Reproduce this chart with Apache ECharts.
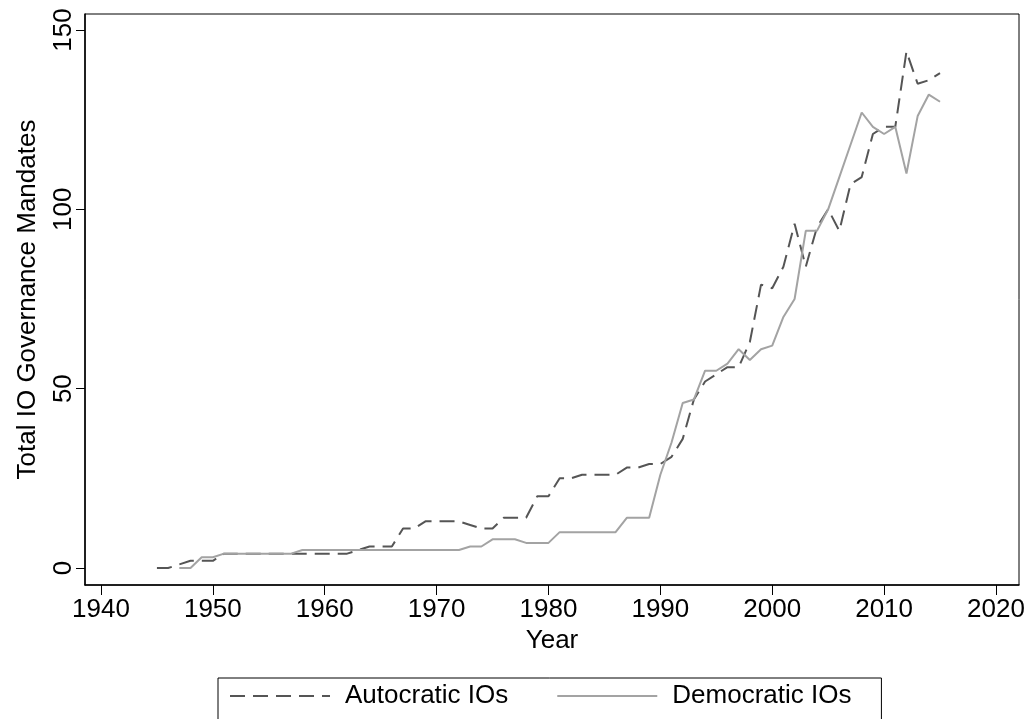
<!DOCTYPE html>
<html><head><meta charset="utf-8">
<script src="https://cdn.jsdelivr.net/npm/echarts@6/dist/echarts.min.js"></script>
<style>html,body{margin:0;padding:0;background:#fff}#c{width:1029px;height:719px}</style>
</head><body><div id="c"></div>
<script>
const years = [1945,1946,1947,1948,1949,1950,1951,1952,1953,1954,1955,1956,1957,1958,1959,
  1960,1961,1962,1963,1964,1965,1966,1967,1968,1969,1970,1971,1972,1973,1974,1975,1976,1977,1978,1979,
  1980,1981,1982,1983,1984,1985,1986,1987,1988,1989,1990,1991,1992,1993,1994,1995,1996,1997,1998,1999,
  2000,2001,2002,2003,2004,2005,2006,2007,2008,2009,2010,2011,2012,2013,2014,2015];
const autocratic = [0,0,1,2,2,2,4,4,4,4,4,4,4,4,4,
  4,4,4,5,6,6,6,11,11,13,13,13,13,12,11,11,14,14,14,20,
  20,25,25,26,26,26,26,28,28,29,29,31,36,47,52,54,56,56,63,79,
  78,84,96,84,95,100,94,107,109,121,123,123,144,135,136,138];
const democratic = [null,null,0,0,3,3,4,4,4,4,4,4,4,5,5,
  5,5,5,5,5,5,5,5,5,5,5,5,5,6,6,8,8,8,7,7,
  7,10,10,10,10,10,10,14,14,14,26,35,46,47,55,55,57,61,58,61,
  62,70,75,94,94,100,109,118,127,123,121,123,110,126,132,130];
const xTicks = [1940,1950,1960,1970,1980,1990,2000,2010,2020];
const yTicks = [0,50,100,150];
const seriesNames = ['Autocratic IOs','Democratic IOs'];

const FONT = "'Liberation Sans', Arial, sans-serif";
const FS = 26;
const chart = echarts.init(document.getElementById('c'), null, {renderer:'canvas'});
chart.setOption({
  animation:false,
  backgroundColor:'#fff',
  grid:{left:85, top:14, right:10, bottom:134, show:true, borderColor:'#000', borderWidth:1,
        backgroundColor:'#fff', outerBoundsMode:'none', containLabel:false},
  xAxis:{
    type:'value', min:1938.57, max:2022.06,
    axisLine:{show:true, onZero:false, lineStyle:{color:'#000', width:1.5}},
    axisTick:{show:true, customValues:xTicks, length:10, lineStyle:{color:'#000', width:1}},
    axisLabel:{customValues:xTicks, fontSize:FS, fontFamily:FONT, color:'#000', margin:12,
               formatter:v=>String(v)},
    splitLine:{show:false},
    name:'Year', nameLocation:'middle', nameGap:40,
    nameTextStyle:{fontSize:FS, fontFamily:FONT, color:'#000'}
  },
  yAxis:{
    type:'value', min:-4.74, max:154.46,
    axisLine:{show:true, onZero:false, lineStyle:{color:'#000', width:1.5}},
    axisTick:{show:true, customValues:yTicks, length:9, lineStyle:{color:'#000', width:1}},
    axisLabel:{customValues:yTicks, rotate:90, fontSize:FS, fontFamily:FONT, color:'#000', margin:8,
               formatter:v=>String(v)},
    splitLine:{show:false},
    name:'Total IO Governance Mandates', nameLocation:'middle', nameGap:44, nameRotate:90,
    nameTextStyle:{fontSize:FS, fontFamily:FONT, color:'#000'}
  },
  legend:{
    data:seriesNames, left:218, top:678, orient:'horizontal',
    itemWidth:100, itemHeight:20, itemGap:48,
    itemStyle:{opacity:0},
    borderColor:'#000', borderWidth:1, padding:[5,30,60,11],
    textStyle:{fontSize:FS, fontFamily:FONT, color:'#000', padding:[0,0,0,10]}
  },
  series:[
    {name:seriesNames[0], type:'line', symbol:'none', showSymbol:false,
     data:years.map((y,i)=>[y, autocratic[i]]),
     lineStyle:{color:'#555555', width:2, type:[15,8]}, itemStyle:{color:'#555555'}},
    {name:seriesNames[1], type:'line', symbol:'none', showSymbol:false, connectNulls:false,
     data:years.map((y,i)=>[y, democratic[i]]),
     lineStyle:{color:'#a3a3a3', width:2}, itemStyle:{color:'#a3a3a3'}}
  ]
});
</script></body></html>
